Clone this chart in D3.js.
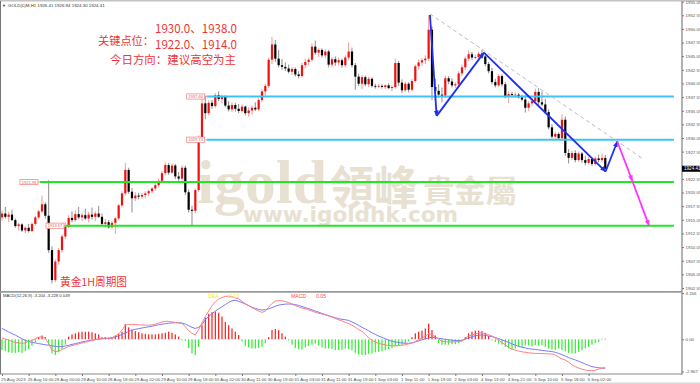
<!DOCTYPE html>
<html>
<head>
<meta charset="utf-8">
<title>黄金1H周期图</title>
<script src="https://cdn.jsdelivr.net/npm/d3@7"></script>
<style>
  body { margin: 0; background: #fff; }
  svg { display: block; }
</style>
</head>
<body>
<div id="chart"></div>
<script>
// ---- data ----
const opens = [1915.5,1916.2,1915.6,1916.0,1915.0,1913.9,1914.2,1913.1,1913.6,1913.0,
1914.3,1915.5,1916.6,1917.9,1915.8,1909.5,1904.0,1907.4,1909.5,1912.0,
1913.8,1915.4,1915.0,1916.1,1915.5,1915.9,1915.3,1916.0,1915.6,1916.2,
1915.6,1914.3,1914.6,1913.7,1914.5,1915.3,1917.7,1919.9,1924.2,1920.2,
1919.0,1919.5,1919.3,1919.6,1919.9,1920.3,1920.8,1921.4,1922.2,1923.6,
1925.1,1923.7,1925.0,1923.0,1922.6,1924.6,1920.1,1916.9,1916.7,1920.5,
1930.0,1936.4,1934.6,1936.5,1935.9,1937.9,1937.2,1937.6,1936.0,1935.3,
1936.1,1935.4,1935.0,1935.8,1934.6,1935.1,1935.6,1935.3,1937.0,1938.6,
1939.6,1944.4,1947.2,1944.6,1943.4,1943.1,1942.8,1942.2,1942.7,1941.7,
1941.4,1943.4,1944.0,1944.4,1946.8,1945.7,1946.2,1945.2,1945.9,1943.5,
1944.5,1943.9,1944.3,1943.4,1944.8,1945.9,1943.4,1941.3,1940.0,1941.2,
1939.9,1940.9,1939.6,1939.5,1939.6,1939.4,1939.7,1939.2,1939.4,1943.8,
1940.2,1938.8,1940.0,1938.9,1940.5,1943.2,1943.9,1944.3,1944.6,1949.9,
1939.4,1938.7,1938.0,1937.8,1941.0,1940.4,1939.7,1939.9,1941.9,1943.0,
1944.6,1945.4,1944.8,1944.9,1945.5,1945.0,1943.6,1942.3,1940.3,1939.7,
1941.4,1939.9,1937.7,1938.1,1937.9,1938.0,1937.5,1937.1,1935.6,1936.4,
1936.8,1938.5,1936.6,1936.2,1934.8,1932.0,1930.3,1930.8,1930.0,1933.4,
1927.3,1926.4,1927.3,1926.0,1927.2,1926.0,1925.5,1926.2,1925.3,1926.3,
1926.0,1926.41];
const highs = [1916.8,1917.4,1916.5,1916.9,1915.3,1914.5,1914.4,1913.9,1914.3,1914.6,
1915.8,1916.9,1919.5,1918.3,1922.3,1910.2,1907.8,1909.9,1912.4,1914.6,
1915.9,1916.6,1916.8,1917.4,1916.3,1917.1,1916.5,1917.3,1916.6,1917.6,
1916.2,1915.2,1915.0,1914.9,1915.6,1918.0,1920.3,1925.5,1924.6,1920.9,
1920.1,1920.0,1920.0,1920.3,1920.6,1921.0,1921.7,1922.6,1924.0,1925.6,
1925.5,1925.4,1925.3,1923.8,1925.0,1925.0,1920.6,1917.6,1920.8,1930.5,
1937.2,1937.8,1936.9,1937.0,1938.3,1938.6,1938.0,1937.9,1936.8,1936.6,
1936.5,1936.3,1936.2,1936.0,1935.7,1936.0,1936.6,1937.4,1939.0,1940.0,
1944.8,1948.6,1948.0,1946.2,1944.5,1943.9,1943.5,1943.1,1943.0,1942.3,
1943.8,1944.6,1944.8,1947.4,1947.9,1946.5,1946.5,1946.3,1946.2,1944.9,
1945.0,1944.8,1944.6,1945.2,1947.6,1946.6,1943.8,1941.8,1941.6,1941.5,
1941.3,1941.2,1940.0,1940.0,1939.9,1939.9,1940.1,1939.7,1944.6,1944.2,
1940.8,1940.4,1940.3,1940.9,1943.5,1944.4,1944.7,1945.2,1952.6,1950.5,
1940.9,1939.9,1939.3,1941.5,1941.4,1941.0,1940.3,1942.3,1943.5,1945.0,
1946.1,1945.8,1945.3,1945.9,1946.2,1945.6,1944.0,1942.9,1940.9,1941.8,
1941.7,1940.3,1938.6,1938.5,1938.4,1938.3,1938.0,1937.9,1936.8,1937.3,
1939.1,1939.2,1938.6,1937.2,1935.3,1932.6,1931.2,1931.1,1934.4,1934.0,
1928.0,1927.7,1927.8,1927.6,1927.5,1926.8,1926.6,1926.5,1926.6,1927.0,
1927.2,1926.94];
const lows = [1914.9,1915.3,1914.6,1914.8,1913.6,1913.1,1912.8,1912.6,1912.7,1912.8,
1914.0,1915.2,1916.3,1915.3,1909.0,1903.4,1903.6,1906.8,1909.0,1911.5,
1913.5,1914.6,1914.7,1915.2,1914.8,1915.0,1914.6,1915.1,1914.8,1915.4,
1914.0,1913.6,1913.4,1913.3,1912.5,1915.0,1917.3,1919.5,1919.8,1916.4,
1918.5,1918.8,1918.9,1919.0,1919.4,1919.9,1920.4,1921.0,1921.8,1923.2,
1923.3,1923.5,1922.5,1922.2,1922.3,1919.6,1916.4,1914.1,1916.2,1920.2,
1929.4,1933.5,1934.2,1935.4,1935.6,1936.8,1936.4,1935.7,1934.9,1934.8,
1934.9,1934.6,1934.7,1934.2,1934.0,1934.3,1935.0,1935.0,1936.6,1937.8,
1939.2,1943.6,1944.0,1943.0,1942.6,1942.3,1941.9,1941.6,1941.3,1941.0,
1941.1,1942.8,1943.4,1944.0,1945.3,1944.9,1944.8,1944.7,1943.0,1943.0,
1943.3,1943.4,1942.9,1943.1,1944.3,1943.0,1938.9,1939.6,1939.0,1939.5,
1939.4,1939.3,1939.1,1939.2,1939.1,1939.0,1939.0,1938.6,1939.1,1939.6,
1938.3,1938.5,1938.4,1938.6,1940.2,1942.6,1943.2,1943.6,1944.2,1937.0,
1936.9,1937.4,1936.6,1937.4,1939.9,1939.3,1939.2,1939.5,1941.4,1942.5,
1944.2,1944.4,1944.5,1944.5,1944.6,1943.2,1941.9,1939.9,1939.3,1939.4,
1939.5,1937.3,1936.5,1937.5,1937.4,1937.3,1936.8,1934.7,1935.0,1935.9,
1936.5,1936.0,1935.9,1934.4,1931.6,1929.9,1929.7,1929.6,1929.6,1926.8,
1925.4,1926.0,1925.6,1925.7,1925.5,1925.0,1925.2,1924.9,1925.0,1925.6,
1925.7,1924.30];
const closes = [1916.2,1915.6,1916.0,1915.0,1913.9,1914.2,1913.1,1913.6,1913.0,1914.3,
1915.5,1916.6,1917.9,1915.8,1909.5,1904.0,1907.4,1909.5,1912.0,1913.8,
1915.4,1915.0,1916.1,1915.5,1915.9,1915.3,1916.0,1915.6,1916.2,1915.6,
1914.3,1914.6,1913.7,1914.5,1915.3,1917.7,1919.9,1924.2,1920.2,1919.0,
1919.5,1919.3,1919.6,1919.9,1920.3,1920.8,1921.4,1922.2,1923.6,1925.1,
1923.7,1925.0,1923.0,1922.6,1924.6,1920.1,1916.9,1916.7,1920.5,1930.0,
1936.4,1934.6,1936.5,1935.9,1937.9,1937.2,1937.6,1936.0,1935.3,1936.1,
1935.4,1935.0,1935.8,1934.6,1935.1,1935.6,1935.3,1937.0,1938.6,1939.6,
1944.4,1947.2,1944.6,1943.4,1943.1,1942.8,1942.2,1942.7,1941.7,1941.4,
1943.4,1944.0,1944.4,1946.8,1945.7,1946.2,1945.2,1945.9,1943.5,1944.5,
1943.9,1944.3,1943.4,1944.8,1945.9,1943.4,1941.3,1940.0,1941.2,1939.9,
1940.9,1939.6,1939.5,1939.6,1939.4,1939.7,1939.2,1939.4,1943.8,1940.2,
1938.8,1940.0,1938.9,1940.5,1943.2,1943.9,1944.3,1944.6,1949.9,1939.4,
1938.7,1938.0,1937.8,1941.0,1940.4,1939.7,1939.9,1941.9,1943.0,1944.6,
1945.4,1944.8,1944.9,1945.5,1945.0,1943.6,1942.3,1940.3,1939.7,1941.4,
1939.9,1937.7,1938.1,1937.9,1938.0,1937.5,1937.1,1935.6,1936.4,1936.8,
1938.5,1936.6,1936.2,1934.8,1932.0,1930.3,1930.8,1930.0,1933.4,1927.3,
1926.4,1927.3,1926.0,1927.2,1926.0,1925.5,1926.2,1925.3,1926.3,1926.0,
1926.4,1924.41];

const macdHist = [-1.0,-1.1,-1.2,-1.25,-1.25,-1.2,-1.25,-1.1,-0.9,-0.6,
-0.3,0.2,0.35,0.2,-0.5,-1.3,-1.45,-1.2,-0.9,-0.5,
0.25,0.45,0.55,0.65,0.7,0.7,0.7,0.65,0.55,0.45,
0.2,0.2,0.15,0.2,0.35,0.5,0.7,1.4,1.1,0.9,
0.75,0.65,0.55,0.5,0.45,0.45,0.45,0.5,0.55,0.6,
0.7,0.6,0.45,0.25,-0.1,-0.15,-0.8,-1.3,-1.45,-0.7,
1.3,2.0,2.35,2.5,2.55,2.45,2.1,1.6,1.3,1.0,
0.7,0.4,-0.2,-0.6,-0.75,-0.85,-0.85,-0.8,-0.7,-0.35,
0.2,0.85,0.95,0.85,0.55,0.25,-0.1,-0.5,-0.8,-0.9,
-0.95,-0.75,-0.6,-0.5,-0.4,-0.55,-0.75,-0.85,-0.85,-0.9,
-1.0,-1.0,-0.95,-0.85,-0.9,-1.0,-1.25,-1.4,-1.45,-1.45,
-1.35,-1.3,-1.2,-1.15,-1.1,-1.0,-0.9,-0.8,-0.65,-0.6,
-0.5,-0.4,-0.2,0.2,0.55,0.7,0.8,1.0,1.45,0.85,
0.35,-0.35,-0.5,-0.5,-0.5,-0.45,-0.45,-0.35,-0.2,0.2,
0.55,0.7,0.8,0.8,0.75,0.6,0.3,-0.1,-0.25,-0.4,
-0.5,-0.7,-0.85,-0.95,-0.85,-0.7,-0.7,-0.55,-0.55,-0.65,
-0.55,-0.55,-0.55,-0.7,-0.85,-0.95,-1.0,-0.85,-1.0,-1.1,
-1.25,-1.3,-1.3,-1.15,-1.0,-0.85,-0.7,-0.5,-0.35,-0.25,
0.05,0.049];
const macdDif = [0.12,0.02,-0.08,-0.2,-0.28,-0.34,-0.37,-0.32,-0.2,-0.1,
0.05,0.2,0.24,0.1,-0.4,-1.0,-1.14,-1.08,-0.95,-0.8,
-0.66,-0.58,-0.5,-0.42,-0.34,-0.27,-0.2,-0.12,-0.04,0.05,
0.09,0.1,0.09,0.15,0.3,0.5,0.85,1.3,1.36,1.38,
1.36,1.34,1.32,1.3,1.3,1.32,1.4,1.5,1.6,1.66,
1.65,1.6,1.55,1.5,1.47,1.15,0.8,0.55,0.4,0.9,
1.5,2.1,2.6,3.1,3.45,3.7,3.85,3.95,3.98,3.92,
3.82,3.72,3.5,3.28,3.1,2.92,2.75,2.6,2.48,2.6,
2.95,3.3,3.52,3.56,3.55,3.48,3.38,3.25,3.1,2.98,
2.88,2.82,2.72,2.6,2.48,2.4,2.33,2.25,2.15,2.05,
1.92,1.8,1.68,1.55,1.45,1.3,1.1,0.9,0.72,0.45,
0.15,-0.1,-0.25,-0.38,-0.45,-0.52,-0.57,-0.6,-0.6,-0.58,
-0.55,-0.5,-0.42,-0.35,-0.2,-0.05,0.1,0.3,0.5,0.45,
0.2,0.0,-0.15,-0.22,-0.24,-0.24,-0.23,-0.22,-0.15,0.1,
0.3,0.4,0.5,0.58,0.6,0.52,0.42,0.3,0.1,-0.1,
-0.3,-0.5,-0.75,-0.9,-1.0,-1.08,-1.15,-1.2,-1.24,-1.28,
-1.3,-1.3,-1.32,-1.33,-1.34,-1.35,-1.45,-1.65,-1.8,-1.92,
-2.1,-2.35,-2.52,-2.65,-2.75,-2.83,-2.88,-2.89,-2.85,-2.75,
-2.66,-2.61];
const macdDea = [1.0,0.85,0.68,0.52,0.38,0.22,0.05,-0.1,-0.2,-0.28,
-0.34,-0.4,-0.45,-0.5,-0.55,-0.6,-0.65,-0.68,-0.67,-0.62,
-0.55,-0.47,-0.4,-0.32,-0.24,-0.18,-0.12,-0.07,-0.03,0.01,
0.05,0.07,0.09,0.14,0.22,0.32,0.45,0.58,0.72,0.84,
0.92,0.98,1.04,1.1,1.15,1.2,1.28,1.34,1.39,1.44,
1.48,1.51,1.53,1.53,1.5,1.4,1.25,1.1,1.0,1.1,
1.35,1.8,2.1,2.35,2.6,2.8,3.0,3.2,3.4,3.55,
3.6,3.5,3.38,3.25,3.1,2.95,2.85,2.75,2.7,2.72,
2.8,2.92,3.05,3.15,3.2,3.24,3.25,3.24,3.2,3.12,
3.02,2.92,2.82,2.72,2.6,2.5,2.38,2.28,2.18,2.08,
1.98,1.9,1.84,1.8,1.74,1.6,1.45,1.28,1.1,0.95,
0.78,0.6,0.45,0.3,0.18,0.05,-0.08,-0.18,-0.25,-0.3,
-0.34,-0.36,-0.37,-0.33,-0.25,-0.15,-0.05,0.05,0.14,0.18,
0.15,0.1,0.05,0.0,-0.04,-0.08,-0.11,-0.13,-0.1,0.0,
0.12,0.24,0.33,0.38,0.4,0.36,0.3,0.24,0.16,0.06,
-0.05,-0.17,-0.3,-0.42,-0.55,-0.65,-0.74,-0.8,-0.86,-0.9,
-0.94,-0.98,-1.02,-1.06,-1.1,-1.13,-1.2,-1.3,-1.42,-1.55,
-1.68,-1.8,-1.9,-2.02,-2.15,-2.28,-2.4,-2.52,-2.58,-2.62,
-2.65,-2.67];

const timeLabels = ["25 Aug 2023","25 Aug 16:00","28 Aug 00:00","28 Aug 10:00","28 Aug 18:00",
  "29 Aug 02:00","29 Aug 10:00","29 Aug 18:00","30 Aug 02:00","30 Aug 11:00","30 Aug 19:00",
  "31 Aug 03:00","31 Aug 11:00","31 Aug 19:00","1 Sep 03:00","1 Sep 11:00","1 Sep 19:00",
  "2 Sep 03:00","4 Sep 13:00","4 Sep 21:00","5 Sep 10:00","5 Sep 18:00","6 Sep 02:00"];
const priceTicks = [1955.05,1952.55,1950.05,1947.55,1945.05,1942.55,1940.05,1937.55,1935.05,
  1932.55,1930.05,1927.55,1922.55,1920.05,1917.55,1915.05,1912.55,1910.05,1907.55,1905.05,1902.55];
const macdTicks = [4.256, 0, -2.967];
const macdTickLabels = ["4.256", "0.00", "-2.967"];

// drawn objects: horizontal levels [price, start bar]
const cyanLevels = [[1937.66, 61.4], [1929.74, 61.4]];
const greenLevels = [[1921.98, 11.4], [1913.97, 19.2]];
const blueZig = [[128.4,1952.6],[130.4,1934.1],[144.6,1945.7],[181.1,1923.9],[184.6,1929.4]];
const pinkZig = [[184.6,1929.4],[189.1,1922.2],[194.1,1914.0]];
const trendLine = [[128.4,1952.8],[191.9,1926.4]];
const lastBar = ["1926.41","1926.94","1924.30","1924.41"];

// ---- setup ----
const W = 700, H = 384;
const svg = d3.select("#chart").append("svg")
  .attr("width", W).attr("height", H)
  .style("font-family", "Arial, 'Liberation Sans', sans-serif");

const x = d3.scaleLinear().domain([0, 181]).range([2, 605.3]);
const y = d3.scaleLinear().domain([1902, 1954.8]).range([291, 3]);
const ym = d3.scaleLinear().domain([-2.967, 4.256]).range([371.5, 293.1]);
const axisX = 682, lineEnd = 201.6;

svg.append("rect").attr("width", W).attr("height", H).attr("fill", "#fff");

const defs = svg.append("defs");
defs.append("clipPath").attr("id", "main").append("rect")
  .attr("x", 0).attr("y", 2).attr("width", axisX).attr("height", 289);
function arrow(id, color) {
  defs.append("marker").attr("id", id)
    .attr("viewBox", "0 0 10 10").attr("refX", 9).attr("refY", 5)
    .attr("markerUnits", "userSpaceOnUse")
    .attr("markerWidth", 6).attr("markerHeight", 6).attr("orient", "auto")
    .append("path").attr("d", "M0,1L10,5L0,9z").attr("fill", color);
}
arrow("arBlue", "#1e2ff0");
arrow("arPink", "#ff33ff");

// watermark
const wm = svg.append("g").attr("fill", "#e8e1d2");
wm.append("text").attr("x", 197).attr("y", 203)
  .attr("font-family", "'Liberation Serif', serif").attr("font-weight", "bold")
  .attr("font-size", 62).attr("textLength", 130).attr("lengthAdjust", "spacingAndGlyphs").text("igold");
wm.append("text").attr("x", 330).attr("y", 204)
  .attr("font-family", "'Noto Sans CJK TC', sans-serif").attr("font-weight", "bold")
  .attr("font-size", 46).attr("textLength", 88).attr("lengthAdjust", "spacingAndGlyphs").text("領峰");
wm.append("text").attr("x", 423).attr("y", 202)
  .attr("font-family", "'Noto Sans CJK TC', sans-serif").attr("font-weight", "bold")
  .attr("font-size", 31).attr("textLength", 94).attr("lengthAdjust", "spacingAndGlyphs").text("貴金屬");
wm.append("text").attr("x", 243).attr("y", 222)
  .attr("font-family", "'DejaVu Sans', sans-serif").attr("font-weight", "bold")
  .attr("font-size", 21).attr("textLength", 215).attr("lengthAdjust", "spacingAndGlyphs").text("www.igoldhk.com");

// ---- candles ----
const bars = d3.range(opens.length).map(i => ({
  i, o: opens[i], h: highs[i], l: lows[i], c: closes[i]
}));
const plot = svg.append("g").attr("clip-path", "url(#main)");
plot.selectAll("line.wick").data(bars).join("line")
  .attr("class", "wick")
  .attr("x1", d => x(d.i)).attr("x2", d => x(d.i))
  .attr("y1", d => y(d.h)).attr("y2", d => y(d.l))
  .attr("stroke", d => d.c >= d.o ? "#f29a9a" : "#8c8c8c").attr("stroke-width", 1);
plot.selectAll("rect.body").data(bars).join("rect")
  .attr("class", "body")
  .attr("x", d => x(d.i) - 1.1).attr("width", 2.2)
  .attr("y", d => y(Math.max(d.o, d.c)))
  .attr("height", d => Math.max(0.8, Math.abs(y(d.o) - y(d.c))))
  .attr("fill", d => d.c >= d.o ? "#f01010" : "#000");

// ---- horizontal levels ----
function drawLevels(levels, color) {
  levels.forEach(([p, b]) => {
    plot.append("line")
      .attr("x1", x(b)).attr("x2", x(lineEnd)).attr("y1", y(p)).attr("y2", y(p))
      .attr("stroke", color).attr("stroke-width", 2);
    const bx = x(b) - 20;
    plot.append("rect").attr("x", bx).attr("y", y(p) - 2.6).attr("width", 18).attr("height", 5.2)
      .attr("fill", "#fff").attr("stroke", "#f08a8a").attr("stroke-width", 0.8);
    plot.append("line").attr("x1", bx + 18).attr("x2", x(b)).attr("y1", y(p)).attr("y2", y(p))
      .attr("stroke", "#f08a8a").attr("stroke-width", 0.8);
    plot.append("text").attr("x", bx + 9).attr("y", y(p) + 1.5).attr("text-anchor", "middle")
      .attr("font-size", 4).attr("fill", "#e05a5a").text(d3.format(".2f")(p));
  });
}
drawLevels(cyanLevels, "#3ec4f4");
drawLevels(greenLevels, "#22e622");

// trend line + zigzags
plot.append("line")
  .attr("x1", x(trendLine[0][0])).attr("y1", y(trendLine[0][1]))
  .attr("x2", x(trendLine[1][0])).attr("y2", y(trendLine[1][1]))
  .attr("stroke", "#b5b5b5").attr("stroke-width", 0.9).attr("stroke-dasharray", "4,3");
function zig(points, color, marker) {
  d3.pairs(points).forEach(([a, b]) => {
    plot.append("line")
      .attr("x1", x(a[0])).attr("y1", y(a[1])).attr("x2", x(b[0])).attr("y2", y(b[1]))
      .attr("stroke", color).attr("stroke-width", 1.8).attr("marker-end", `url(#${marker})`);
  });
}
zig(blueZig, "#1e2ff0", "arBlue");
zig(pinkZig, "#ff33ff", "arPink");

// ---- annotation text ----
const red = "#ee3535";
const cjk = "'Noto Sans CJK SC', sans-serif";
svg.append("text").attr("x", 155).attr("y", 33).attr("font-family", cjk).attr("font-size", 12)
  .attr("fill", red).attr("textLength", 82).attr("lengthAdjust", "spacingAndGlyphs").text("1930.0、1938.0");
svg.append("text").attr("x", 98).attr("y", 44.5).attr("font-family", cjk).attr("font-size", 11.5)
  .attr("fill", red).attr("textLength", 56).attr("lengthAdjust", "spacingAndGlyphs").text("关键点位：");
svg.append("text").attr("x", 155).attr("y", 48.5).attr("font-family", cjk).attr("font-size", 12)
  .attr("fill", red).attr("textLength", 82).attr("lengthAdjust", "spacingAndGlyphs").text("1922.0、1914.0");
svg.append("text").attr("x", 110).attr("y", 63.5).attr("font-family", cjk).attr("font-size", 11.5)
  .attr("fill", red).attr("textLength", 126).attr("lengthAdjust", "spacingAndGlyphs").text("今日方向：建议高空为主");
svg.append("text").attr("x", 60).attr("y", 285.5).attr("font-family", cjk).attr("font-size", 11)
  .attr("fill", red).attr("textLength", 67).attr("lengthAdjust", "spacingAndGlyphs").text("黄金1H周期图");

// header
svg.append("text").attr("x", 2).attr("y", 7).attr("font-size", 4).attr("fill", "#333").text("▼");
svg.append("text").attr("x", 8).attr("y", 7).attr("font-size", 4.4).attr("fill", "#333")
  .text("GOLD(£)M,H1  " + lastBar.join(" "));

// ---- MACD panel ----
const mp = svg.append("g");
mp.selectAll("rect.hist").data(macdHist).join("rect")
  .attr("class", "hist")
  .attr("x", (d, i) => x(i) - 0.6).attr("width", 1.2)
  .attr("y", d => Math.min(ym(d), ym(0)))
  .attr("height", d => Math.max(0.6, Math.abs(ym(d) - ym(0))))
  .attr("fill", d => d >= 0 ? "#ff1a1a" : "#2cf02c");
const lineGen = d3.line().x((d, i) => x(i)).y(d => ym(d));
mp.append("path").datum(macdDea).attr("d", lineGen)
  .attr("fill", "none").attr("stroke", "#7a7aff").attr("stroke-width", 1);
mp.append("path").datum(macdDif).attr("d", lineGen)
  .attr("fill", "none").attr("stroke", "#ff8080").attr("stroke-width", 1);
svg.append("text").attr("x", 3).attr("y", 297).attr("font-size", 4.2).attr("fill", "#333")
  .text("MACD(12,26,9) -3.204 -3.228 0.049");
svg.append("text").attr("x", 208).attr("y", 297.5).attr("font-size", 5.2).attr("fill", "#eaea3a").text("DEA");
svg.append("text").attr("x", 229).attr("y", 297.5).attr("font-size", 5.2).attr("fill", "#eaea3a").text("3.23");
svg.append("text").attr("x", 291).attr("y", 297.5).attr("font-size", 5.2).attr("fill", "#ff4a4a").text("MACD");
svg.append("text").attr("x", 316).attr("y", 297.5).attr("font-size", 5.2).attr("fill", "#ff4a4a").text("0.05");

// ---- frame ----
svg.append("rect").attr("x", 0).attr("y", 0).attr("width", W).attr("height", 1.5).attr("fill", "#c4c4c4");
svg.append("line").attr("x1", 0.5).attr("x2", 0.5).attr("y1", 1).attr("y2", 374).attr("stroke", "#777");
svg.append("line").attr("x1", axisX).attr("x2", axisX).attr("y1", 1).attr("y2", 374.5)
  .attr("stroke", "#8a8a8a").attr("stroke-width", 1.3);
svg.append("line").attr("x1", 0).attr("x2", axisX).attr("y1", 291.8).attr("y2", 291.8)
  .attr("stroke", "#9a9a9a").attr("stroke-width", 1.8);
svg.append("line").attr("x1", 0).attr("x2", axisX).attr("y1", 374).attr("y2", 374)
  .attr("stroke", "#8a8a8a").attr("stroke-width", 1.2);
svg.append("rect").attr("x", 0).attr("y", 382.5).attr("width", W).attr("height", 1.5).attr("fill", "#d8d8d8");

// ---- axes ----
const smallAxis = g => {
  g.select(".domain").remove();
  g.selectAll("line").attr("stroke", "#777");
  g.selectAll("text").attr("font-size", 4.4).attr("fill", "#555");
};
svg.append("g").attr("transform", `translate(${axisX},0)`)
  .call(d3.axisRight(y).tickValues(priceTicks).tickSize(2).tickPadding(1.5).tickFormat(d3.format(".2f")))
  .call(smallAxis);
svg.append("g").attr("transform", `translate(${axisX},0)`)
  .call(d3.axisRight(ym).tickValues(macdTicks).tickSize(2).tickPadding(1.5)
    .tickFormat((d, i) => macdTickLabels[i]))
  .call(smallAxis);
svg.append("g").attr("transform", "translate(0,374)")
  .call(d3.axisBottom(x).tickValues(d3.range(0, 177, 8)).tickSize(2).tickPadding(1.5)
    .tickFormat((d, i) => timeLabels[i]))
  .call(smallAxis)
  .call(g => g.selectAll("text").attr("text-anchor", "start").attr("dx", -1.5));

// current price box
const cp = y(closes[closes.length - 1]);
svg.append("rect").attr("x", axisX).attr("y", cp - 3).attr("width", W - axisX).attr("height", 6).attr("fill", "#000");
svg.append("text").attr("x", axisX + 2).attr("y", cp + 1.6).attr("font-size", 4.6).attr("fill", "#fff")
  .text(lastBar[3]);
</script>
</body>
</html>
